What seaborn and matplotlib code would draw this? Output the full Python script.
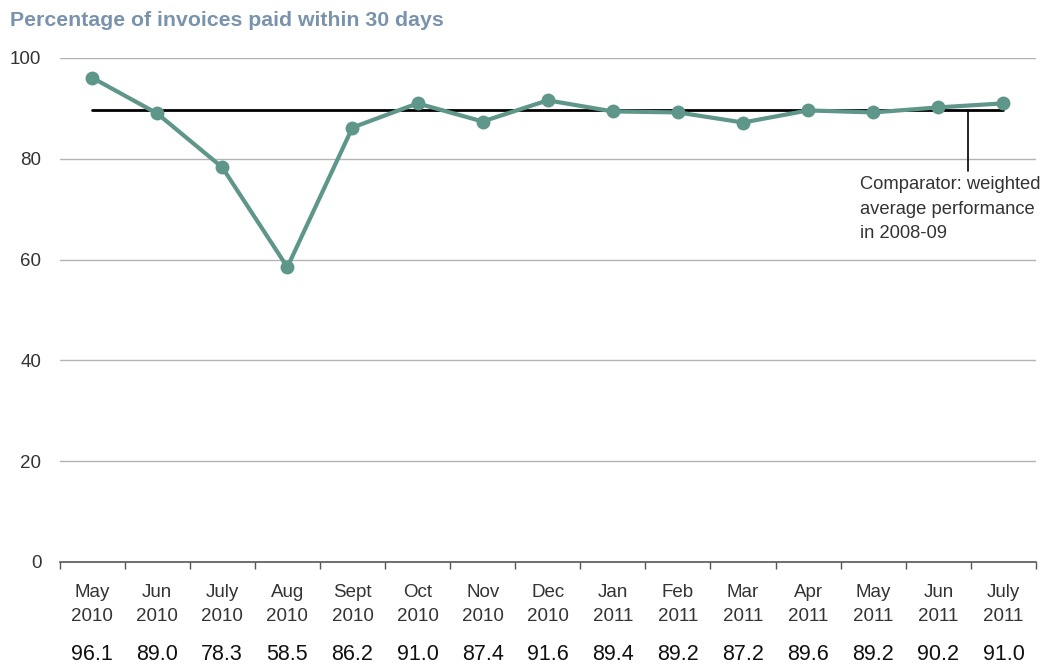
import matplotlib
matplotlib.use("Agg")
import matplotlib.pyplot as plt
import matplotlib.transforms as mtransforms
import seaborn as sns
import pandas as pd
import numpy as np

months = ["May", "Jun", "July", "Aug", "Sept", "Oct", "Nov", "Dec",
          "Jan", "Feb", "Mar", "Apr", "May", "Jun", "July"]
years = ["2010"] * 8 + ["2011"] * 7
values = [96.1, 89.0, 78.3, 58.5, 86.2, 91.0, 87.4, 91.6,
          89.4, 89.2, 87.2, 89.6, 89.2, 90.2, 91.0]
comparator = 89.7
y_ticks = [0, 20, 40, 60, 80, 100]

title = "Percentage of invoices paid within 30 days"
annotation = "Comparator: weighted\naverage performance\nin 2008-09"

sns.set_theme(style="white")
plt.rcParams['font.family'] = ['Liberation Sans', 'DejaVu Sans']

LINE_COLOR = "#5e968a"
TITLE_COLOR = "#7a93ad"
TEXT_COLOR = "#333333"
GRID_COLOR = "#b4b4b4"

fig = plt.figure(figsize=(10.54, 6.66), dpi=100)
ax = fig.add_axes([59.5 / 1054, 1 - 562 / 666, (1036 - 59.5) / 1054, (562 - 58) / 666])

df = pd.DataFrame({"idx": np.arange(len(values)), "value": values})

# gridlines
for yv in y_ticks[1:]:
    ax.axhline(yv, color=GRID_COLOR, linewidth=1, zorder=0)

# comparator line
ax.plot([0, len(values) - 1], [comparator, comparator], color="black", linewidth=2, zorder=2)

sns.lineplot(data=df, x="idx", y="value", ax=ax, color=LINE_COLOR, linewidth=3,
             marker="o", markersize=10, markeredgewidth=0, zorder=3)

ax.set_xlim(-0.5, len(values) - 0.5)
ax.set_ylim(0, 100)
ax.set_xlabel("")
ax.set_ylabel("")

for s in ["top", "right", "left"]:
    ax.spines[s].set_visible(False)
ax.spines["bottom"].set_color("#555555")
ax.spines["bottom"].set_linewidth(1.2)

ax.set_yticks(y_ticks)
ax.set_yticklabels([str(v) for v in y_ticks])
ax.tick_params(axis="y", length=0, pad=13, labelsize=13.5, labelcolor=TEXT_COLOR)

ax.set_xticks(np.arange(len(values)))
ax.set_xticklabels([f"{m}\n{y}" for m, y in zip(months, years)], linespacing=1.55)
ax.set_xticks(np.arange(-0.5, len(values)), minor=True)
ax.tick_params(axis="x", which="major", length=0, pad=16, labelsize=13.5, labelcolor=TEXT_COLOR)
ax.tick_params(axis="x", which="minor", length=5, width=1, color="#555555", direction="out", bottom=True)

# value row
trans = mtransforms.blended_transform_factory(ax.transData, fig.transFigure)
for i, v in enumerate(values):
    ax.text(i, 1 - 655 / 666, f"{v:.1f}", transform=trans, ha="center", va="center",
            fontsize=15.5, color="#111111")

# annotation
ax.plot([13.45, 13.45], [comparator, 77.5], color="black", linewidth=1.2, zorder=2)
ax.text(11.79, 77.5 - 1.0, annotation, ha="left", va="top", fontsize=13.2,
        color=TEXT_COLOR, linespacing=1.55)

fig.text(10 / 1054, 1 - 20 / 666, title, ha="left", va="center", fontsize=15.3,
         fontweight="bold", color=TITLE_COLOR)

fig.savefig("out.png", dpi=100)
